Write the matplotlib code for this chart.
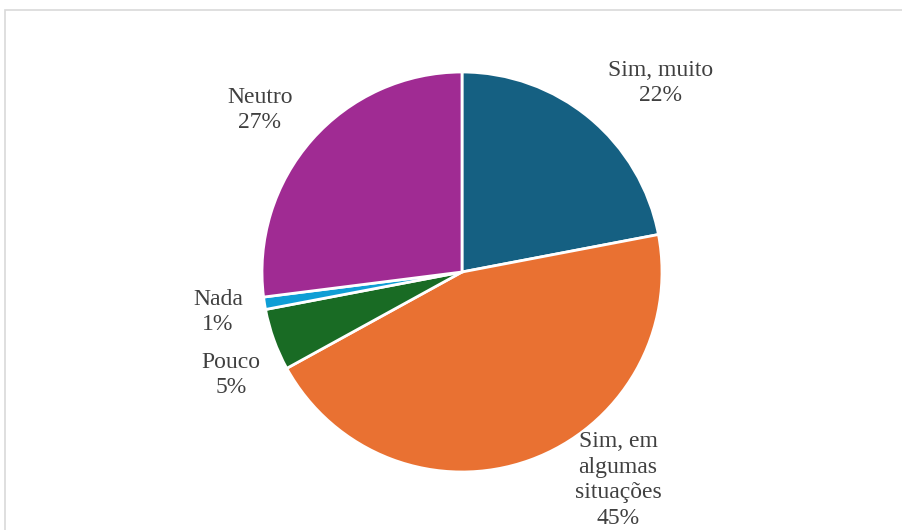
import matplotlib
matplotlib.use("Agg")
from matplotlib import pyplot as plt
from matplotlib.patches import Rectangle

# Answer shares, clockwise from the top
categories = ["Sim, muito", "Sim, em\nalgumas\nsituações", "Pouco", "Nada", "Neutro"]
shares = [22, 45, 5, 1, 27]
colors = ["#156082", "#E97132", "#196B24", "#0F9ED5", "#A02B93"]

# Label centres in units of the pie radius
label_pos = [(0.995, 0.945), (0.78, -1.04), (-1.155, -0.515), (-1.22, -0.20), (-1.01, 0.81)]

plt.rcParams["font.family"] = ["Liberation Serif", "DejaVu Serif"]

fig = plt.figure(figsize=(9.03, 5.30), dpi=100)
ax = fig.add_axes([0, 0, 1, 1])

ax.pie(shares, colors=colors, startangle=90, counterclock=False, radius=1.0,
       wedgeprops={"edgecolor": "white", "linewidth": 2.0})

for name, v, (x, y) in zip(categories, shares, label_pos):
    ax.text(x, y, f"{name}\n{v}%", ha="center", va="center", fontsize=17,
            color="#404040", linespacing=1.28)

# pie centre at (462, 272) px, radius 200 px
ax.set_xlim(-462 / 200, (903 - 462) / 200)
ax.set_ylim(-(530 - 272) / 200, 272 / 200)
ax.set_aspect("equal")
ax.axis("off")

# chart frame, running off the right and bottom edges
fig.patches.append(Rectangle((5 / 903, -0.1), 1.1, (530 - 9.5) / 530 + 0.1,
                             transform=fig.transFigure, fill=False,
                             edgecolor="#D9D9D9", linewidth=1.2))

fig.savefig("out.png", dpi=100)
